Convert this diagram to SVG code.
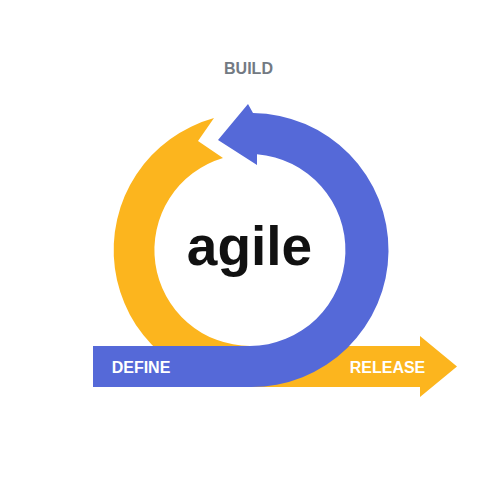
<svg xmlns="http://www.w3.org/2000/svg" width="500" height="500" viewBox="0 0 500 500">
  <style>
    .yellow { fill: #FCB51E; }
    .blue { fill: #5569D8; }
    .lbl { font-family: "Liberation Sans", Arial, sans-serif; font-weight: bold; font-size: 16px; text-anchor: middle; }
    .white { fill: #ffffff; }
  </style>
  <rect width="500" height="500" fill="#ffffff"/>
  <g id="connectors">
    <path id="release-arrow" class="yellow" d="M 250 346 L 420 346 L 420 336 L 457 366.5 L 420 397 L 420 387 L 250 387 Z"/>
    <path id="yellow-ring" class="yellow" d="M 250 387 A 137 137 0 0 1 214 118 L 198 141 L 223 158 A 96 96 0 0 0 250 346 Z"/>
    <path id="blue-spiral" class="blue" d="M 253 113 A 137 137 0 0 1 250 387 L 93 387 L 93 346 L 250 346 A 96 96 0 0 0 257 154.3 L 257 165 L 218 140 L 248 104 Z"/>
  </g>
  <g id="build">
    <text class="lbl" x="248.5" y="74" fill="#737A83">BUILD</text>
  </g>
  <g id="agile">
    <text x="249.5" y="265" font-family="'Liberation Sans', Arial, sans-serif" font-weight="bold" font-size="55" text-anchor="middle" fill="#111111">agile</text>
  </g>
  <g id="define">
    <text class="lbl white" x="141" y="373">DEFINE</text>
  </g>
  <g id="release">
    <text class="lbl white" x="387.5" y="373">RELEASE</text>
  </g>
</svg>
